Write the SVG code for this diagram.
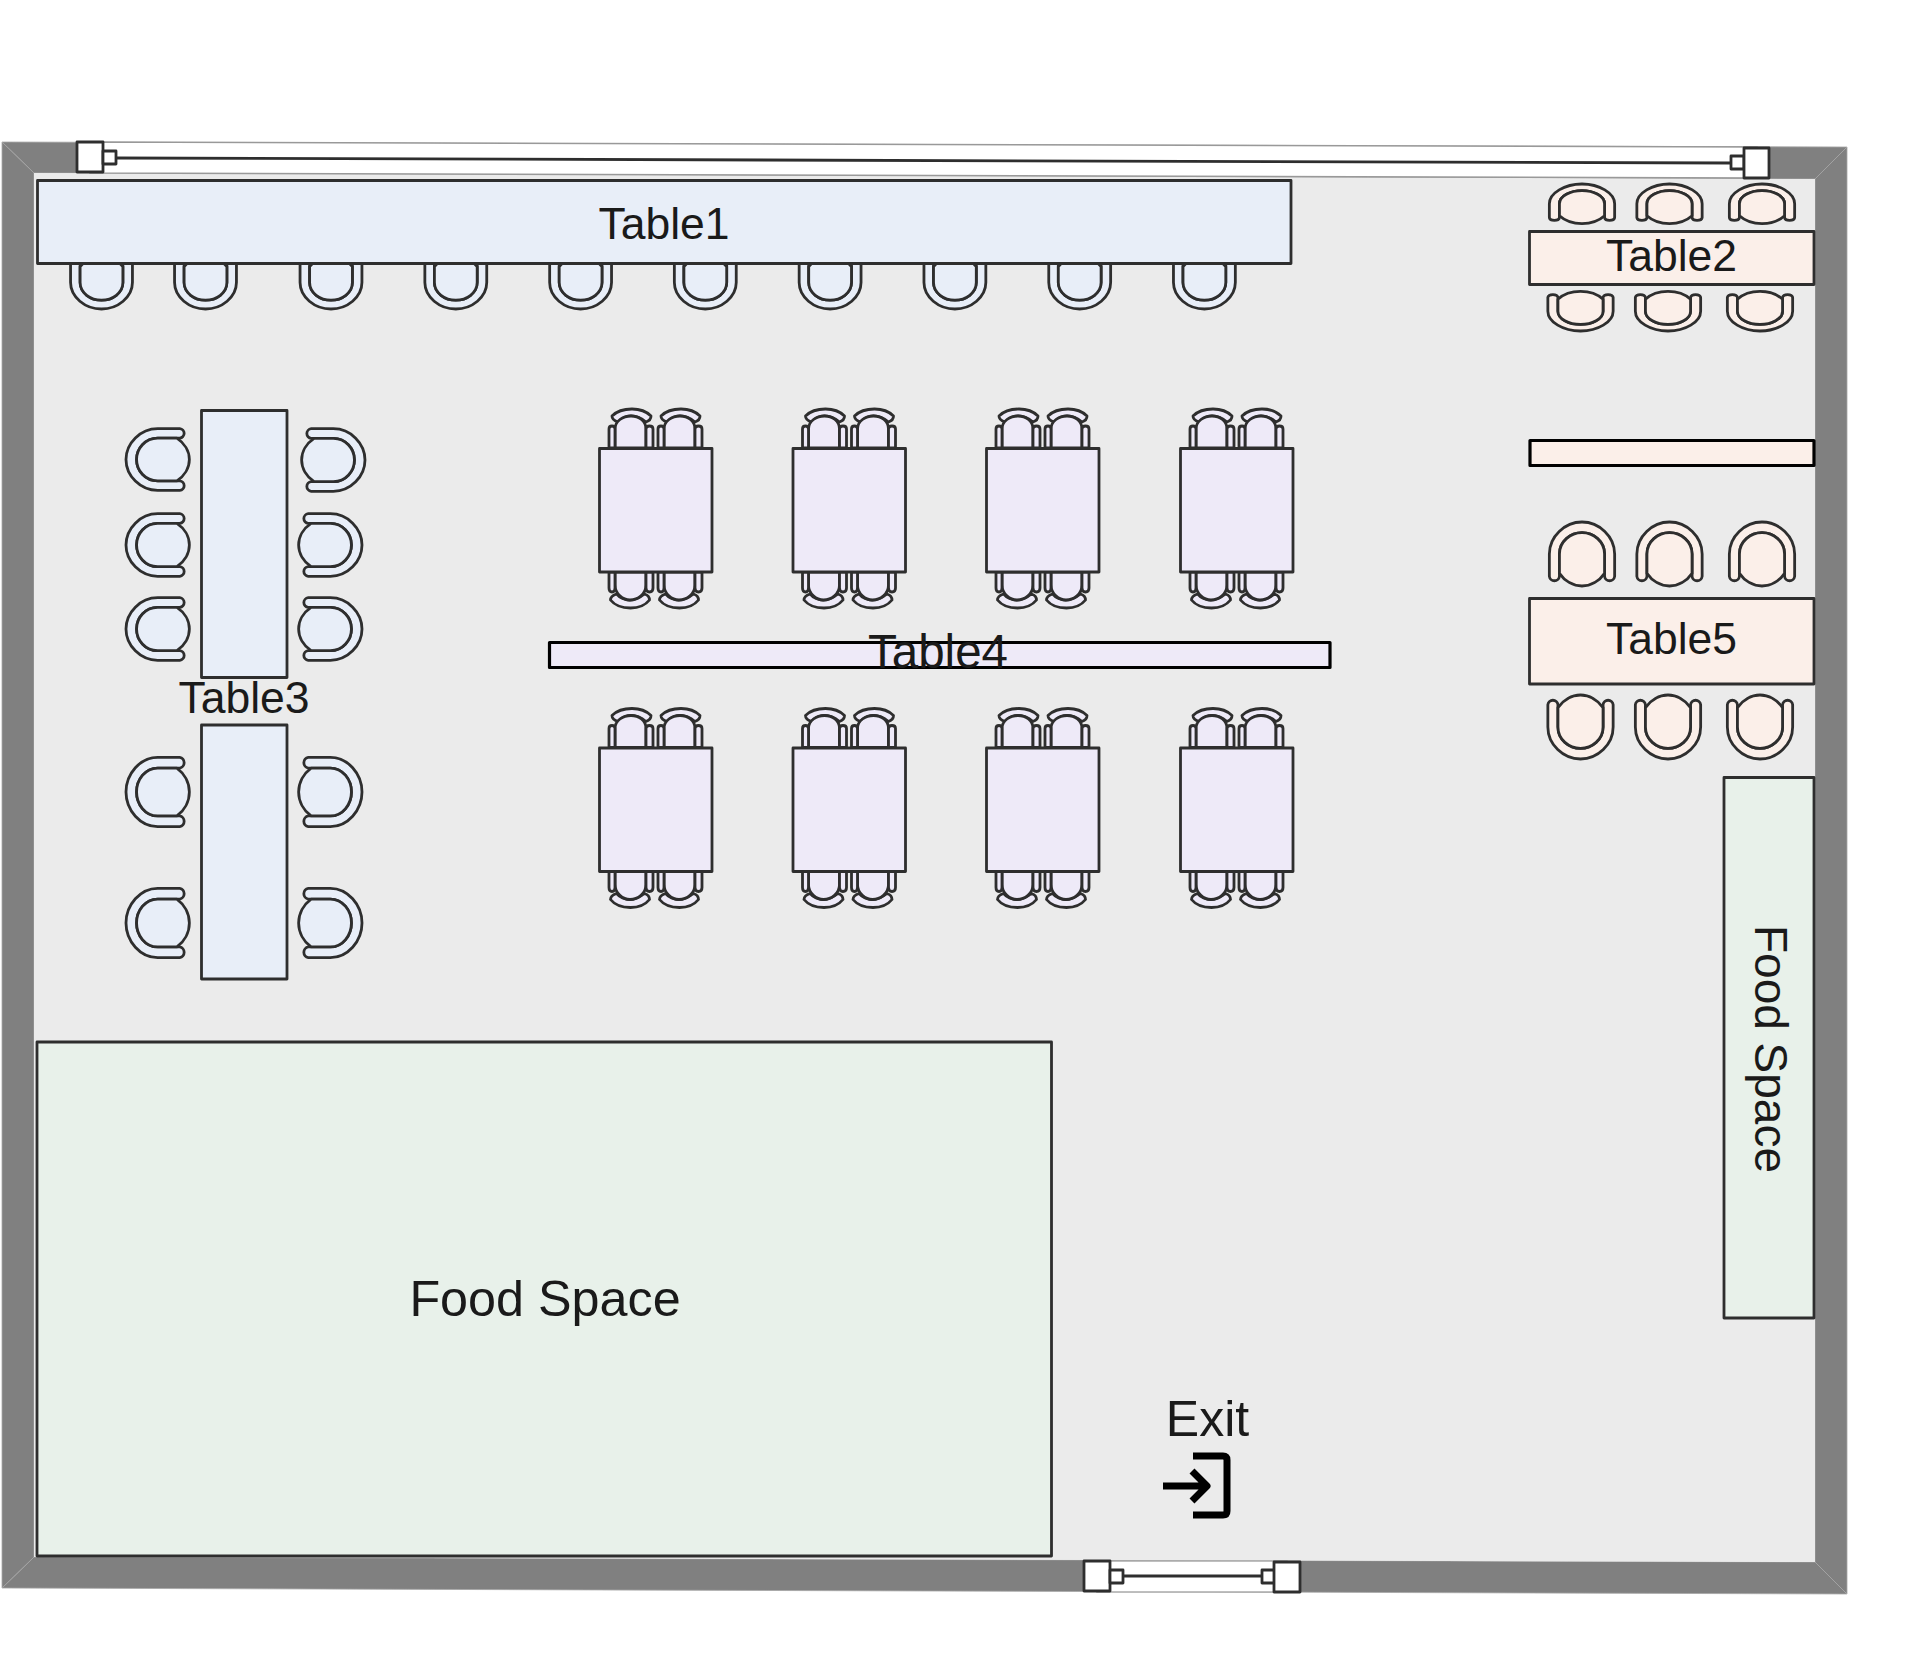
<svg xmlns="http://www.w3.org/2000/svg" width="1919" height="1656" viewBox="0 0 1919 1656">
<style>
.w{fill:#808080;stroke:#a6a6a6;stroke-width:.8}
.s{stroke:#2e2e2e;stroke-width:2.800;stroke-linejoin:round}
.b{stroke:#000;stroke-width:3.200;stroke-linejoin:round}
.blue{fill:#e8eef8}.pink{fill:#fbefe9}.lil{fill:#eeeaf8}.grn{fill:#e8f1ea}.wh{fill:#fff}
.c{stroke:#2e2e2e;stroke-width:2.800;stroke-linejoin:round;vector-effect:non-scaling-stroke}
.t{font-family:"Liberation Sans",Arial,sans-serif;font-size:44.500px;fill:#1a1a1a;text-anchor:middle}
</style>
<defs>
<g id="chair">
<path class="c" d="M-34 56V33C-34 15-18 0 0 0C18 0 34 15 34 33V56A5.300 5.300 0 0 1 23.500 56V33C23.500 20 12 11 0 11C-12 11-23.500 20-23.500 33V56A5.300 5.300 0 0 1-34 56Z"/>
<path class="c" d="M-23.500 53V33C-23.500 20-12 11 0 11C12 11 23.500 20 23.500 33V53C18 61 9 66 0 66C-9 66-18 61-23.500 53Z"/>
</g>
<g id="c4t">
<path class="c" d="M-19-32C-15-36-8-39 1-39C9-39 16-36 20-32C20-29 18-27 15-26C10-30 5-32 0-32C-4-32-10-30-13-26C-16-27-19-29-19-32Z"/>
<path class="c" d="M-16 0V-19C-16-27-8-32 0-32C8-32 15-27 15-19V0Z"/>
<path class="c" d="M-22 0V-19Q-22-22-19-22Q-16-22-16-19V0Z"/>
<path class="c" d="M15 0V-19Q15-22 18.500-22Q22-22 22-19V0Z"/>
</g>
<g id="c4b">
<path class="c" d="M-20.500 28C-16.500 33-9.500 36-.5 36C7.500 36 14.500 33 18.500 28C18.500 25 16.500 23 13.500 22C8.500 26 3.500 28-1.500 28C-5.500 28-11.500 26-14.500 22C-17.500 23-20.500 25-20.500 28Z"/>
<path class="c" d="M-16 0V13C-16 22-8 28-1 28C7 28 15 22 15 13V0Z"/>
<path class="c" d="M-22 0V16Q-22 20-19 20Q-16 20-16 16V0Z"/>
<path class="c" d="M15 0V16Q15 20 18.500 20Q22 20 22 16V0Z"/>
</g>
</defs>
<g id="walls">
<polygon id="wall-top" class="w" points="2,142 1847,147 1815,179 34,173"/>
<polygon id="wall-right" class="w" points="1847,147 1847,1594 1815,1562 1815,179"/>
<polygon id="wall-bottom" class="w" points="2,1588 1847,1594 1815,1562 34,1557"/>
<polygon id="wall-left" class="w" points="2,142 34,173 34,1557 2,1588"/>
<polygon id="floor" fill="#ebebeb" points="34,173 1815,179 1815,1562 34,1557"/>
</g>
<g id="window-top">
<polygon points="90,142 1757,147 1757,178 90,173" fill="#fff" stroke="#999" stroke-width="1.500"/>
<rect class="s wh" x="77" y="142" width="26" height="30"/>
<rect class="s wh" x="103" y="151" width="13" height="13"/>
<line class="s" x1="116" y1="158" x2="1731" y2="163"/>
<rect class="s wh" x="1731" y="156" width="13" height="13"/>
<rect class="s wh" x="1744" y="148" width="25" height="30"/>
</g>
<g id="door-bottom">
<rect x="1097" y="1561" width="190" height="31" fill="#fff" stroke="#aaa" stroke-width="1.500"/>
<rect class="s wh" x="1084" y="1561" width="26" height="30"/>
<rect class="s wh" x="1110" y="1570" width="13" height="13"/>
<line class="s" x1="1123" y1="1576" x2="1262" y2="1576"/>
<rect class="s wh" x="1262" y="1570" width="13" height="13"/>
<rect class="s wh" x="1274" y="1562" width="26" height="30"/>
</g>
<g id="table1" class="blue">
<use href="#chair" transform="translate(101.500 309) scale(.91 -.8)"/>
<use href="#chair" transform="translate(205.500 309) scale(.91 -.8)"/>
<use href="#chair" transform="translate(331 309) scale(.91 -.8)"/>
<use href="#chair" transform="translate(455.800 309) scale(.91 -.8)"/>
<use href="#chair" transform="translate(580.600 309) scale(.91 -.8)"/>
<use href="#chair" transform="translate(705.300 309) scale(.91 -.8)"/>
<use href="#chair" transform="translate(830.100 309) scale(.91 -.8)"/>
<use href="#chair" transform="translate(954.900 309) scale(.91 -.8)"/>
<use href="#chair" transform="translate(1079.700 309) scale(.91 -.8)"/>
<use href="#chair" transform="translate(1204.400 309) scale(.91 -.8)"/>
<rect class="s" x="37.500" y="180.500" width="1253.500" height="83"/>
<text class="t" x="664" y="239">Table1</text>
</g>
<g id="table2" class="pink">
<use href="#chair" transform="translate(1582 184) scale(.96 .6)"/>
<use href="#chair" transform="translate(1669.500 184) scale(.96 .6)"/>
<use href="#chair" transform="translate(1762 184) scale(.96 .6)"/>
<use href="#chair" transform="translate(1580.500 331) scale(.96 -.6)"/>
<use href="#chair" transform="translate(1668 331) scale(.96 -.6)"/>
<use href="#chair" transform="translate(1760 331) scale(.96 -.6)"/>
<rect class="s" x="1529.500" y="231.500" width="284.500" height="53"/>
<text class="t" x="1671.500" y="271">Table2</text>
</g>
<g id="table3" class="blue">
<use href="#chair" transform="translate(126 459.500) rotate(-90) scale(.91 .96)"/>
<use href="#chair" transform="translate(126 545) rotate(-90) scale(.92 .96)"/>
<use href="#chair" transform="translate(126 629) rotate(-90) scale(.92 .96)"/>
<use href="#chair" transform="translate(365 460) rotate(90) scale(.92 .96)"/>
<use href="#chair" transform="translate(362 545) rotate(90) scale(.92 .96)"/>
<use href="#chair" transform="translate(362 629) rotate(90) scale(.92 .96)"/>
<use href="#chair" transform="translate(126 792) rotate(-90) scale(1.02 .96)"/>
<use href="#chair" transform="translate(126 923) rotate(-90) scale(1.02 .96)"/>
<use href="#chair" transform="translate(362 792) rotate(90) scale(1.02 .96)"/>
<use href="#chair" transform="translate(362 923) rotate(90) scale(1.02 .96)"/>
<rect class="s" x="201.500" y="410.500" width="85.500" height="267"/>
<rect class="s" x="201.500" y="725" width="85.500" height="254"/>
<text class="t" x="244" y="713">Table3</text>
</g>
<g id="table4" class="lil">
<use href="#c4t" x="631" y="448"/><use href="#c4t" x="680" y="448"/>
<use href="#c4b" x="631" y="572"/><use href="#c4b" x="680" y="572"/>
<use href="#c4t" x="824.500" y="448"/><use href="#c4t" x="873.500" y="448"/>
<use href="#c4b" x="824.500" y="572"/><use href="#c4b" x="873.500" y="572"/>
<use href="#c4t" x="1018" y="448"/><use href="#c4t" x="1067" y="448"/>
<use href="#c4b" x="1018" y="572"/><use href="#c4b" x="1067" y="572"/>
<use href="#c4t" x="1212" y="448"/><use href="#c4t" x="1261" y="448"/>
<use href="#c4b" x="1212" y="572"/><use href="#c4b" x="1261" y="572"/>
<use href="#c4t" x="631" y="747.500"/><use href="#c4t" x="680" y="747.500"/>
<use href="#c4b" x="631" y="871.500"/><use href="#c4b" x="680" y="871.500"/>
<use href="#c4t" x="824.500" y="747.500"/><use href="#c4t" x="873.500" y="747.500"/>
<use href="#c4b" x="824.500" y="871.500"/><use href="#c4b" x="873.500" y="871.500"/>
<use href="#c4t" x="1018" y="747.500"/><use href="#c4t" x="1067" y="747.500"/>
<use href="#c4b" x="1018" y="871.500"/><use href="#c4b" x="1067" y="871.500"/>
<use href="#c4t" x="1212" y="747.500"/><use href="#c4t" x="1261" y="747.500"/>
<use href="#c4b" x="1212" y="871.500"/><use href="#c4b" x="1261" y="871.500"/>
<rect class="s" x="599.500" y="448.500" width="112.500" height="123.500"/>
<rect class="s" x="793" y="448.500" width="112.500" height="123.500"/>
<rect class="s" x="986.500" y="448.500" width="112.500" height="123.500"/>
<rect class="s" x="1180.500" y="448.500" width="112.500" height="123.500"/>
<rect class="s" x="599.500" y="748" width="112.500" height="123.500"/>
<rect class="s" x="793" y="748" width="112.500" height="123.500"/>
<rect class="s" x="986.500" y="748" width="112.500" height="123.500"/>
<rect class="s" x="1180.500" y="748" width="112.500" height="123.500"/>
<rect class="b" x="549.500" y="642.500" width="780.500" height="25"/>
<text class="t" x="938" y="668" style="font-size:47.500px">Table4</text>
</g>
<g id="table5" class="pink">
<rect class="b" x="1530" y="440.500" width="284" height="25"/>
<use href="#chair" transform="translate(1582 522) scale(.96 .97)"/>
<use href="#chair" transform="translate(1669.500 522) scale(.96 .97)"/>
<use href="#chair" transform="translate(1762 522) scale(.96 .97)"/>
<use href="#chair" transform="translate(1580.500 759) scale(.96 -.97)"/>
<use href="#chair" transform="translate(1668 759) scale(.96 -.97)"/>
<use href="#chair" transform="translate(1760 759) scale(.96 -.97)"/>
<rect class="s" x="1529.500" y="598.500" width="284.500" height="85.500"/>
<text class="t" x="1671.500" y="654">Table5</text>
</g>
<g id="food-main" class="grn">
<rect class="s" x="37" y="1042" width="1014.500" height="514"/>
<text class="t" x="545" y="1316" style="font-size:50.300px">Food Space</text>
</g>
<g id="food-side" class="grn">
<rect class="s" x="1724" y="777.500" width="90" height="540.500"/>
<text class="t" transform="translate(1755 1049) rotate(90)" style="font-size:46px">Food Space</text>
</g>
<g id="exit">
<text class="t" x="1207.500" y="1436" style="font-size:50px">Exit</text>
<path d="M1193 1456H1223Q1227 1456 1227 1460V1511Q1227 1515 1223 1515H1193M1163 1486H1206M1192 1471L1207 1486L1192 1501" fill="none" stroke="#000" stroke-width="7" stroke-linejoin="round"/>
</g>
</svg>
